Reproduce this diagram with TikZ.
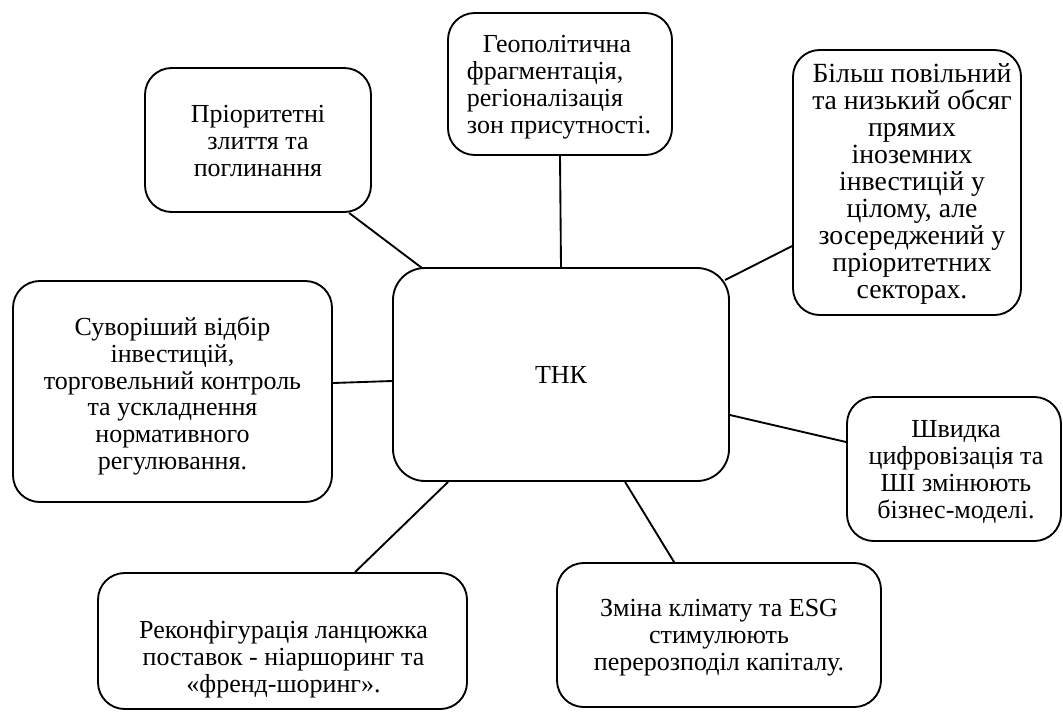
\documentclass[tikz,border=0pt]{standalone}
\usepackage{fontspec}
\setmainfont{Liberation Serif}
\usetikzlibrary{calc}
\begin{document}
\begin{tikzpicture}[x=0.75pt,y=-0.75pt,
  box/.style={draw=black, line width=1.4pt, rounded corners=20pt, fill=white, inner sep=0pt},
  boxtext/.style={align=center, inner sep=0pt, font=\fontsize{19.5}{20.2}\selectfont},
  link/.style={draw=black, line width=1.4pt}]
\useasboundingbox (0,0) rectangle (1063,711);

\node[box, minimum width=252pt, minimum height=159.75pt, rounded corners=24pt] (tnk) at (561,374.5) {};
\node[boxtext] (tnktext) at (561,374.5) {ТНК};

\node[box, minimum width=168pt, minimum height=106.5pt] (geo) at (560,84) {};
\node[boxtext, align=left] (geotext) at (559,87)
  {\hspace*{12pt}Геополітична\\фрагментація,\\регіоналізація\\зон присутності.};

\node[box, minimum width=169.5pt, minimum height=108pt] (prior) at (258,140) {};
\node[boxtext] (priortext) at (258,141) {Пріоритетні\\злиття та\\поглинання};

\node[box, minimum width=171pt, minimum height=198.75pt] (bilsh) at (907,182.5) {};
\node[boxtext, font=\fontsize{20.8}{20.3}\selectfont] (bilshtext) at (912,184)
  {Більш повільний\\та низький обсяг\\прямих\\іноземних\\інвестицій у\\цілому, але\\зосереджений у\\пріоритетних\\секторах.};

\node[box, minimum width=239.25pt, minimum height=165.75pt] (suvor) at (172.5,391.5) {};
\node[boxtext] (suvortext) at (172.5,396)
  {Суворіший відбір\\інвестицій,\\торговельний контроль\\та ускладнення\\нормативного\\регулювання.};

\node[box, minimum width=160.5pt, minimum height=108pt] (shv) at (954,469) {};
\node[boxtext] (shvtext) at (956,472)
  {Швидка\\цифровізація та\\ШІ змінюють\\бізнес-моделі.};

\node[box, minimum width=276.75pt, minimum height=102pt] (rek) at (282.5,641) {};
\node[boxtext] (rektext) at (283.5,659)
  {Реконфігурація ланцюжка\\поставок - ніаршоринг та\\«френд-шоринг».};

\node[box, minimum width=243pt, minimum height=108pt] (zmina) at (719,635) {};
\node[boxtext] (zminatext) at (719,638)
  {Зміна клімату та ESG\\стимулюють\\перерозподіл капіталу.};

\draw[link] (geo.south) -- (tnk.north);
\draw[link] ($(prior.south west)+(205,0)$) -- ($(tnk.north west)+(30,1)$);
\draw[link] ($(bilsh.north west)+(0,197)$) -- ($(tnk.north east)+(-5,13)$);
\draw[link] ($(suvor.east)+(0,-8.5)$) -- ($(tnk.west)+(0,6.5)$);
\draw[link] ($(tnk.east)+(0,40.5)$) -- ($(shv.west)+(0,-27)$);
\draw[link] ($(tnk.south west)+(56,0)$) -- ($(rek.north west)+(258,0)$);
\draw[link] ($(tnk.south west)+(233,0)$) -- ($(zmina.north west)+(118,0)$);
\end{tikzpicture}
\end{document}
